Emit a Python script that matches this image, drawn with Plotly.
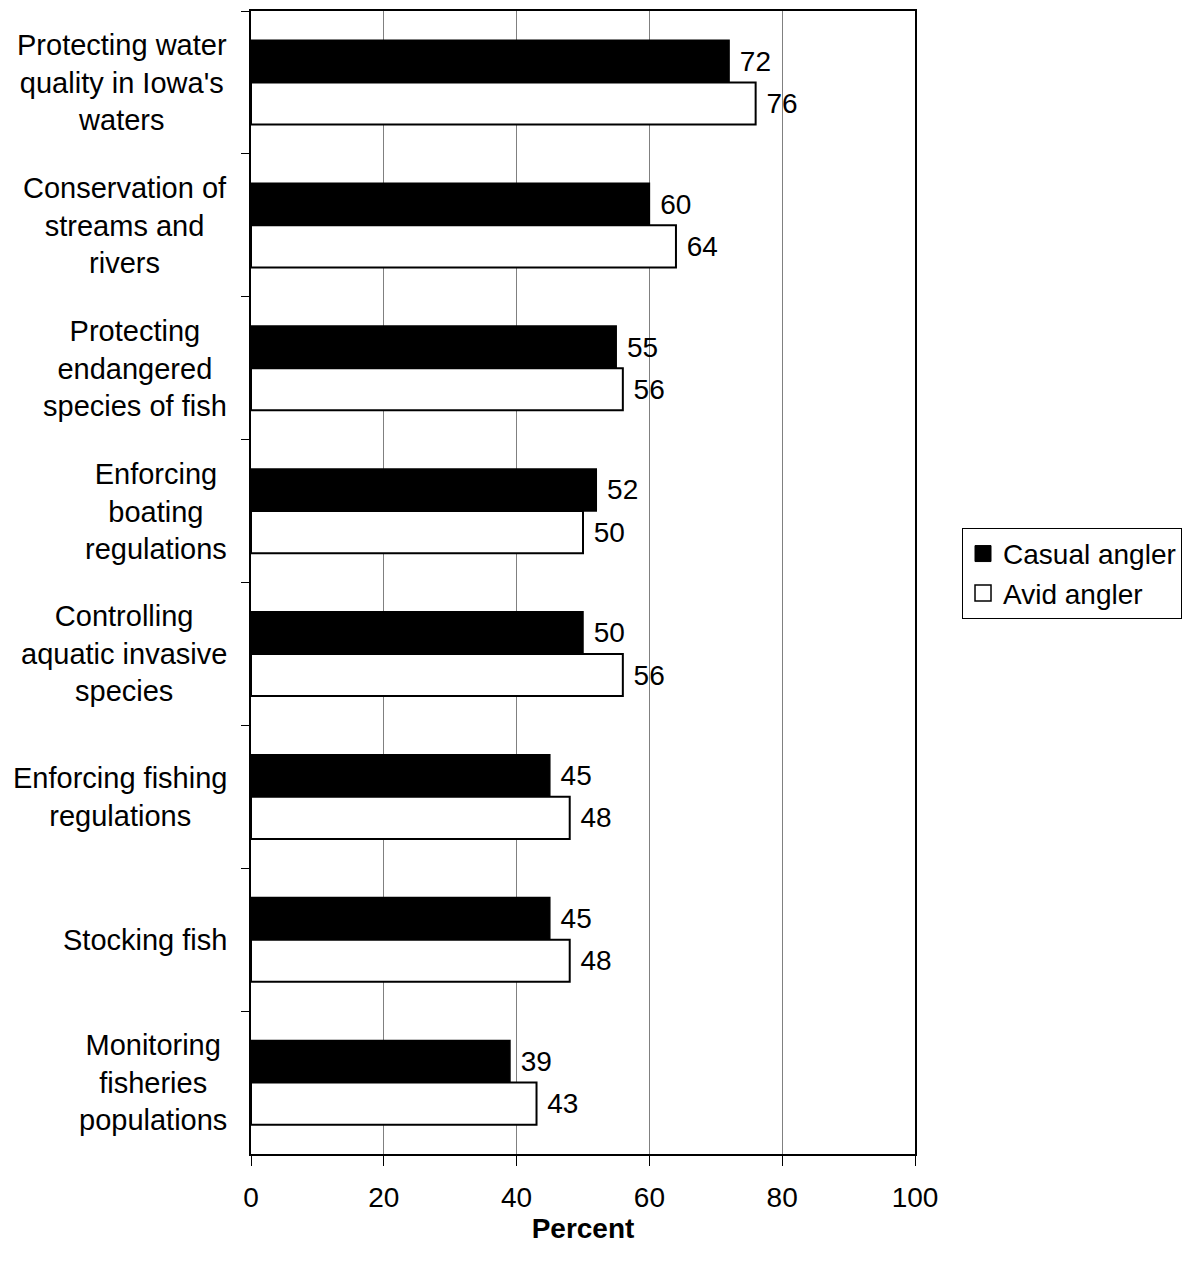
import plotly.graph_objects as go

categories = [
    "Protecting water<br>quality in Iowa's<br>waters",
    "Conservation of<br>streams and<br>rivers",
    "Protecting<br>endangered<br>species of fish",
    "Enforcing<br>boating<br>regulations",
    "Controlling<br>aquatic invasive<br>species",
    "Enforcing fishing<br>regulations",
    "Stocking fish",
    "Monitoring<br>fisheries<br>populations",
]
cat_ids = [f"c{i}" for i in range(len(categories))]
casual = [72, 60, 55, 52, 50, 45, 45, 39]
avid = [76, 64, 56, 50, 56, 48, 48, 43]
x_ticks = [0, 20, 40, 60, 80, 100]

FONT = "Liberation Sans, Arial, sans-serif"
FS = 28

fig = go.Figure()
fig.add_trace(go.Bar(
    y=cat_ids, x=casual, orientation="h", name="Casual angler",
    marker=dict(color="black", line=dict(color="black", width=1.5)),
    text=casual, texttemplate="\u00a0%{text}", textposition="outside", constraintext="none",
    textfont=dict(size=FS, color="black", family=FONT), cliponaxis=False,
    showlegend=False,
))
fig.add_trace(go.Bar(
    y=cat_ids, x=avid, orientation="h", name="Avid angler",
    marker=dict(color="white", line=dict(color="black", width=2)),
    text=avid, texttemplate="\u00a0%{text}", textposition="outside", constraintext="none",
    textfont=dict(size=FS, color="black", family=FONT), cliponaxis=False,
    showlegend=False,
))

# legend entries (square swatches like the original)
fig.add_trace(go.Scatter(
    x=[None], y=[None], mode="markers", name="Casual angler",
    marker=dict(symbol="square", size=16, color="black", line=dict(color="black", width=1)),
    legendgroup="a",
))
fig.add_trace(go.Scatter(
    x=[None], y=[None], mode="markers", name="Avid angler",
    marker=dict(symbol="square", size=16, color="white", line=dict(color="black", width=1.5)),
    legendgroup="b",
))

for cid, label in zip(cat_ids, categories):
    fig.add_annotation(
        x=0, xref="paper", y=cid, yref="y", text=label,
        xanchor="right", yanchor="middle", align="center",
        xshift=-22, showarrow=False,
        font=dict(size=29, color="black", family=FONT),
    )

fig.update_layout(
    width=1188, height=1253,
    margin=dict(l=243, r=281, t=1, b=107),
    paper_bgcolor="white", plot_bgcolor="white",
    barmode="group", bargap=0.41, bargroupgap=0,
    font=dict(family=FONT, size=FS, color="black"),
    showlegend=True,
    legend=dict(
        x=1.0708, y=0.508, xanchor="left", yanchor="middle",
        bordercolor="black", borderwidth=1, bgcolor="white",
        font=dict(size=28, family=FONT, color="black"),
        tracegroupgap=5, traceorder="normal", itemsizing="trace",
    ),
    xaxis=dict(
        range=[0, 100], tickvals=x_ticks, ticks="outside", ticklen=10,
        tickcolor="black", tickwidth=1, ticklabelstandoff=7,
        showgrid=True, gridcolor="#808080", gridwidth=1,
        showline=True, linecolor="black", linewidth=2, mirror=True,
        zeroline=False,
        tickfont=dict(size=FS, family=FONT, color="black"),
        title=dict(text="<b>Percent</b>", font=dict(size=FS, family=FONT, color="black"), standoff=5),
    ),
    yaxis=dict(
        type="category", categoryorder="array", categoryarray=cat_ids,
        autorange="reversed", showticklabels=False,
        ticks="outside", ticklen=8, tickcolor="black", tickson="boundaries",
        showgrid=False, showline=True, linecolor="black", linewidth=2, mirror=True,
    ),
)

fig.write_html("out.html")
